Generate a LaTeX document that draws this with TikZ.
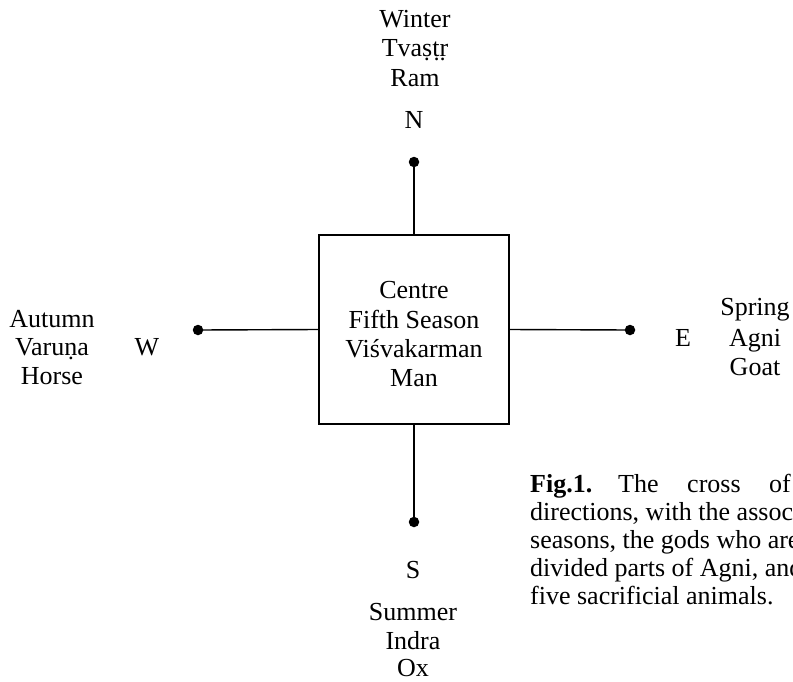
\documentclass[tikz,border=0pt]{standalone}
\usepackage{fontspec}
\setmainfont{Liberation Serif}
\begin{document}
\begin{tikzpicture}[x=1pt,y=-1pt,
  lbl/.style={font=\fontsize{26}{30}\selectfont, inner sep=0pt, anchor=base},
  capline/.style={font=\fontsize{26}{28}\selectfont, inner sep=0pt, anchor=base west},
  dotnode/.style={circle, fill=black, draw=none, inner sep=0pt, minimum size=10.5pt},
  conn/.style={line width=1.4pt},
  box/.style={draw, line width=2pt, minimum width=190pt, minimum height=189pt, inner sep=0pt}]
\useasboundingbox (0,0) rectangle (793,681);
% centre box
\node[box] (centre) at (414,329.5) {};
\node[lbl] (c1) at (414,298) {Centre};
\node[lbl] (c2) at (414,328) {Fifth Season};
\node[lbl] (c3) at (414,357) {Viśvakarman};
\node[lbl] (c4) at (414,386) {Man};
% end dots
\node[dotnode] (ndot) at (414,162) {};
\node[dotnode] (sdot) at (414,522) {};
\node[dotnode] (wdot) at (198,330) {};
\node[dotnode] (edot) at (630,330) {};
% connectors
\draw[conn] (centre.north) -- (ndot.center);
\draw[conn] (centre.south) -- (sdot.center);
\draw[conn] (centre.west) -- (wdot.center);
\draw[conn] (centre.east) -- (edot.center);
% north
\node[lbl] (n1) at (415,27) {Winter};
\node[lbl] (n2) at (415,56) {Tvaṣṭṛ};
\node[lbl] (n3) at (415,86) {Ram};
\node[lbl] (nlab) at (414,128) {N};
% west
\node[lbl] (w1) at (52,327) {Autumn};
\node[lbl] (w2) at (52,355) {Varuṇa};
\node[lbl] (w3) at (52,384) {Horse};
\node[lbl] (wlab) at (147,355) {W};
% east
\node[lbl] (e1) at (755,315) {Spring};
\node[lbl] (e2) at (755,346) {Agni};
\node[lbl] (e3) at (755,375) {Goat};
\node[lbl] (elab) at (683,346) {E};
% south
\node[lbl] (slab) at (413,578) {S};
\node[lbl] (s1) at (413,620) {Summer};
\node[lbl] (s2) at (413,649) {Indra};
\node[lbl] (s3) at (413,676) {Ox};
% caption (cut at the right edge, as in the reference)
\begin{scope}
\clip (0,0) rectangle (793,681);
\node[capline] (f1a) at (530,492) {\textbf{Fig.1.}};
\node[capline] (f1b) at (618,492) {The};
\node[capline] (f1c) at (687,492) {cross};
\node[capline] (f1d) at (769,492) {of};
\node[capline] (f2) at (530,520) {directions, with the associated};
\node[capline] (f3) at (530,548) {seasons, the gods who are the};
\node[capline] (f4) at (530,576) {divided parts of Agni, and the};
\node[capline] (f5) at (530,604) {five sacrificial animals.};
\end{scope}
\end{tikzpicture}
\end{document}
